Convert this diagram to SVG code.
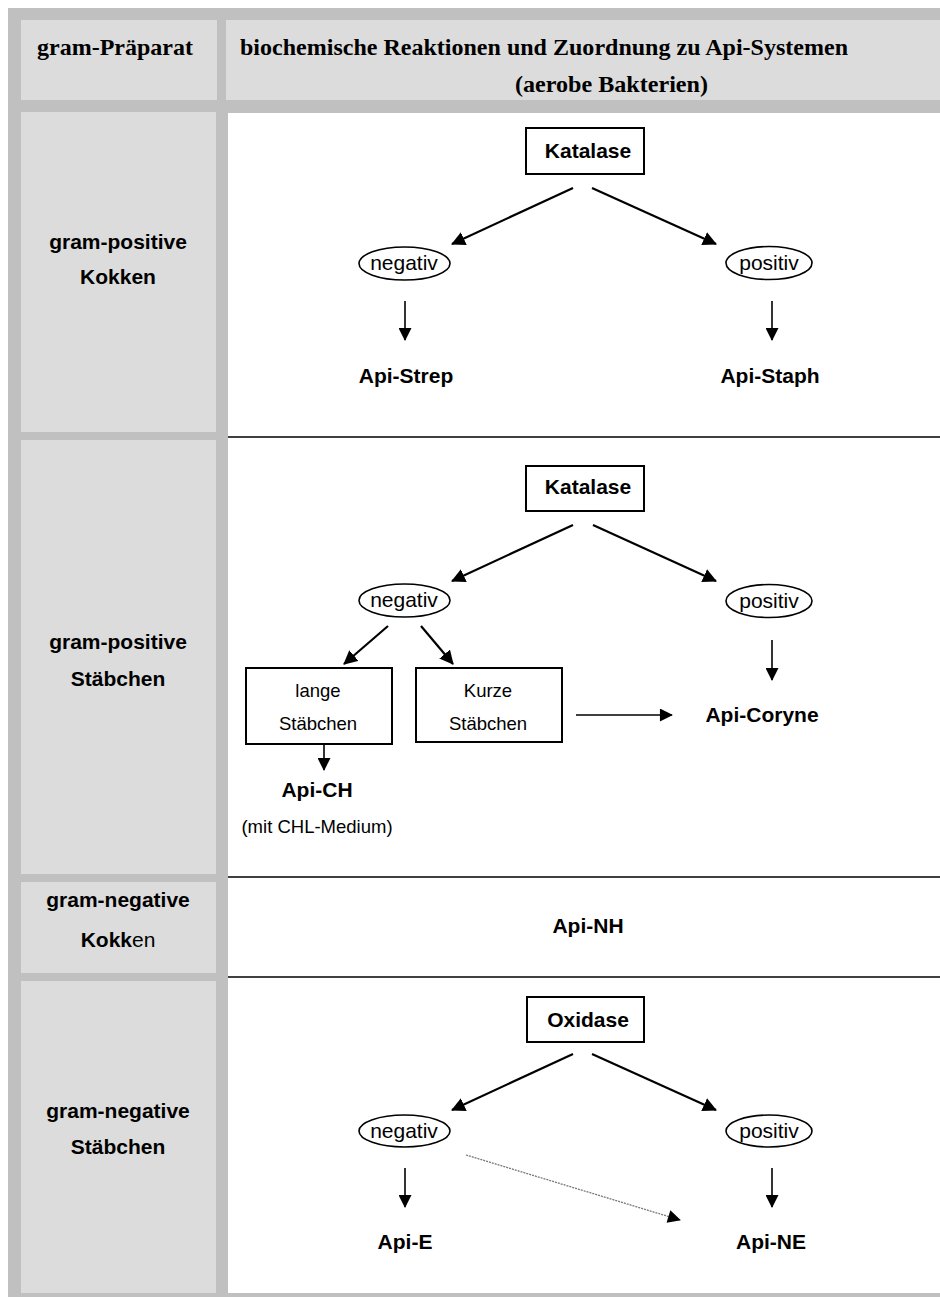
<svg xmlns="http://www.w3.org/2000/svg" width="940" height="1297" viewBox="0 0 940 1297">
<defs>
<marker id="ah" viewBox="0 0 14 14" refX="13" refY="7" markerWidth="14" markerHeight="14" markerUnits="userSpaceOnUse" orient="auto"><path d="M0,0 L14,7 L0,14 z" fill="#000"/></marker>
<marker id="ahs" viewBox="0 0 14 14" refX="13" refY="7" markerWidth="14" markerHeight="13" markerUnits="userSpaceOnUse" orient="auto"><path d="M0,0 L14,7 L0,14 z" fill="#000"/></marker>
<style>
.cell{fill:#dcdcdc}
.hd{font-family:"Liberation Serif","Times New Roman",serif;font-weight:bold;font-size:23px;fill:#000}
.lb{font-family:"Liberation Sans",Arial,sans-serif;font-weight:bold;font-size:21px;fill:#000;text-anchor:middle}
.nm{font-family:"Liberation Sans",Arial,sans-serif;font-size:21px;fill:#000;text-anchor:middle}
.sm{font-family:"Liberation Sans",Arial,sans-serif;font-size:18.5px;fill:#000;text-anchor:middle}
.box{fill:#fff;stroke:#000;stroke-width:2}
.ell{fill:#fff;stroke:#000;stroke-width:1.6}
.con{stroke:#000;stroke-width:2.2;fill:none}
.dn{stroke:#000;stroke-width:1.6;fill:none}
.sep{stroke:#000;stroke-width:1.6}
</style>
</defs>
<rect x="0" y="0" width="940" height="1297" fill="#fff"/>
<rect x="8" y="8" width="932" height="1289" fill="#c0c0c0"/>
<g id="header">
<rect class="cell" x="21" y="20" width="196" height="80"/>
<rect class="cell" x="226" y="20" width="714" height="80"/>
<text class="hd" x="37" y="55" textLength="156" lengthAdjust="spacingAndGlyphs">gram-Präparat</text>
<text class="hd" x="240" y="55" textLength="608" lengthAdjust="spacingAndGlyphs">biochemische Reaktionen und Zuordnung zu Api-Systemen</text>
<text class="hd" x="515" y="92" textLength="193" lengthAdjust="spacingAndGlyphs">(aerobe Bakterien)</text>
</g>
<g id="left-column">
<rect class="cell" x="21" y="112" width="195" height="320"/>
<rect class="cell" x="21" y="440" width="195" height="434"/>
<rect class="cell" x="21" y="882" width="195" height="91"/>
<rect class="cell" x="21" y="981" width="195" height="312"/>
<text class="lb" x="118" y="249">gram-positive</text>
<text class="lb" x="118" y="284">Kokken</text>
<text class="lb" x="118" y="649">gram-positive</text>
<text class="lb" x="118" y="686">Stäbchen</text>
<text class="lb" x="118" y="907">gram-negative</text>
<text class="lb" x="118" y="947">Kokk<tspan font-weight="normal">en</tspan></text>
<text class="lb" x="118" y="1118">gram-negative</text>
<text class="lb" x="118" y="1154">Stäbchen</text>
</g>
<rect x="228" y="113" width="712" height="1180" fill="#fff"/>
<g id="separators">
<line class="sep" x1="228" y1="437" x2="940" y2="437"/>
<line class="sep" x1="228" y1="877" x2="940" y2="877"/>
<line class="sep" x1="228" y1="977" x2="940" y2="977"/>
</g>
<g id="connectors">
<line class="con" x1="573" y1="188" x2="452" y2="244" marker-end="url(#ah)"/>
<line class="con" x1="592" y1="188" x2="716" y2="244" marker-end="url(#ah)"/>
<line class="dn" x1="405" y1="301" x2="405" y2="340" marker-end="url(#ahs)"/>
<line class="dn" x1="772" y1="301" x2="772" y2="340" marker-end="url(#ahs)"/>
<line class="con" x1="573" y1="525" x2="452" y2="581" marker-end="url(#ah)"/>
<line class="con" x1="593" y1="525" x2="716" y2="581" marker-end="url(#ah)"/>
<line class="con" x1="388" y1="626" x2="344" y2="664" marker-end="url(#ah)"/>
<line class="con" x1="421" y1="626" x2="453" y2="664" marker-end="url(#ah)"/>
<line class="dn" x1="772" y1="640" x2="772" y2="680" marker-end="url(#ahs)"/>
<line class="dn" x1="324" y1="744" x2="324" y2="770" marker-end="url(#ahs)"/>
<line class="dn" x1="576" y1="715" x2="672" y2="715" marker-end="url(#ahs)"/>
<line class="con" x1="573" y1="1054" x2="452" y2="1110" marker-end="url(#ah)"/>
<line class="con" x1="592" y1="1054" x2="716" y2="1110" marker-end="url(#ah)"/>
<line class="dn" x1="405" y1="1168" x2="405" y2="1207" marker-end="url(#ahs)"/>
<line class="dn" x1="772" y1="1168" x2="772" y2="1207" marker-end="url(#ahs)"/>
<line x1="466" y1="1155" x2="680" y2="1220" stroke="#777" stroke-width="1.3" stroke-dasharray="2 1" marker-end="url(#ahs)"/>
</g>
<g id="r1-katalase"><rect class="box" x="526" y="128" width="118" height="46"/><text class="lb" x="588" y="158">Katalase</text></g>
<g id="r1-negativ"><ellipse class="ell" cx="404.5" cy="263.5" rx="45.5" ry="16.5"/><text class="nm" x="404" y="270">negativ</text></g>
<g id="r1-positiv"><ellipse class="ell" cx="769" cy="263" rx="43" ry="16.5"/><text class="nm" x="769" y="270">positiv</text></g>
<g id="r1-strep"><text class="lb" x="406" y="383">Api-Strep</text></g>
<g id="r1-staph"><text class="lb" x="770" y="383">Api-Staph</text></g>
<g id="r2-katalase"><rect class="box" x="526" y="466" width="118" height="45"/><text class="lb" x="588" y="494">Katalase</text></g>
<g id="r2-negativ"><ellipse class="ell" cx="404.5" cy="600.5" rx="45.5" ry="16.5"/><text class="nm" x="404" y="607">negativ</text></g>
<g id="r2-positiv"><ellipse class="ell" cx="769" cy="601" rx="43" ry="16.5"/><text class="nm" x="769" y="608">positiv</text></g>
<g id="r2-lange"><rect class="box" x="246" y="668" width="146" height="76" stroke-width="1.6"/><text class="sm" x="318" y="697">lange</text><text class="sm" x="318" y="730">Stäbchen</text></g>
<g id="r2-kurze"><rect class="box" x="416" y="668" width="146" height="74" stroke-width="1.6"/><text class="sm" x="488" y="697">Kurze</text><text class="sm" x="488" y="730">Stäbchen</text></g>
<g id="r2-coryne"><text class="lb" x="762" y="722">Api-Coryne</text></g>
<g id="r2-ch"><text class="lb" x="317" y="797">Api-CH</text><text class="sm" x="317" y="833" font-size="19.5">(mit CHL-Medium)</text></g>
<g id="r3-nh"><text class="lb" x="588" y="933">Api-NH</text></g>
<g id="r4-oxidase"><rect class="box" x="527" y="997" width="117" height="45"/><text class="lb" x="588" y="1027">Oxidase</text></g>
<g id="r4-negativ"><ellipse class="ell" cx="404.5" cy="1131" rx="45.5" ry="16"/><text class="nm" x="404" y="1138">negativ</text></g>
<g id="r4-positiv"><ellipse class="ell" cx="769" cy="1131" rx="43" ry="16"/><text class="nm" x="769" y="1138">positiv</text></g>
<g id="r4-e"><text class="lb" x="405" y="1249">Api-E</text></g>
<g id="r4-ne"><text class="lb" x="771" y="1249">Api-NE</text></g>
</svg>
